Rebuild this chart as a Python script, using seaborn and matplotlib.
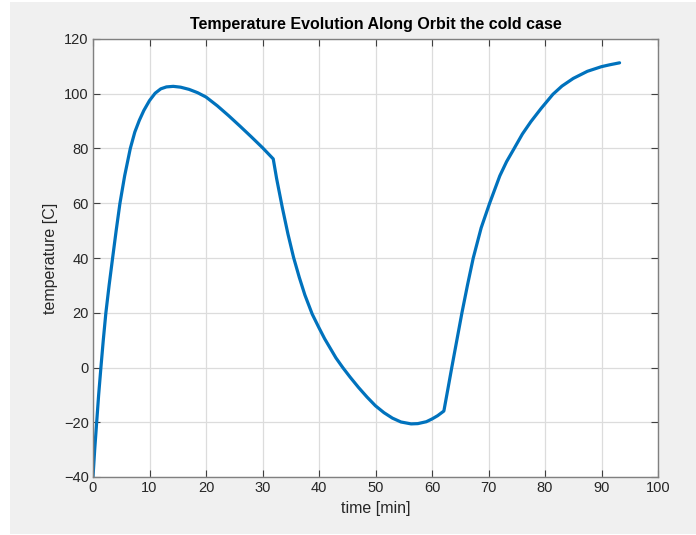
import numpy as np
import pandas as pd
import matplotlib
matplotlib.use("Agg")
import matplotlib.pyplot as plt
from matplotlib.patches import Rectangle
import seaborn as sns

# Temperature along the orbit, cold case: time [min] and temperature [C]
time_min = [0.0, 0.3, 0.65, 1.0, 1.4, 1.82, 2.28, 2.85, 3.47, 4.1, 4.77, 5.6,
            6.6, 7.4, 8.2, 9.0, 10.0, 11.0, 12.0, 13.0, 14.2, 15.5, 17.0,
            18.5, 20.0, 22.0, 24.0, 26.0, 28.0, 30.0, 31.9,
            32.5, 33.5, 34.5, 35.5, 36.5, 37.5, 38.8, 40.0, 41.0, 42.0, 43.0,
            44.2, 45.5, 47.0, 48.5, 50.0, 51.5, 53.0, 54.5, 56.3, 57.5, 59.0,
            60.0, 61.0, 62.1,
            62.8, 63.5, 64.4, 65.3, 66.3, 67.3, 68.7, 70.2, 72.0, 73.2, 74.4,
            76.0, 77.5, 79.3, 81.4, 83.0, 85.0, 87.5, 90.0, 91.5, 93.2]
temperature_c = [-40.0, -30.0, -20.0, -10.0, 0.0, 10.0, 20.0, 30.0, 40.0, 50.0, 60.0, 70.0,
                 80.0, 86.0, 90.3, 93.9, 97.5, 100.2, 101.8, 102.5, 102.7, 102.4, 101.6,
                 100.4, 98.8, 95.6, 92.0, 88.2, 84.3, 80.3, 76.2,
                 69.0, 58.5, 48.8, 40.2, 33.0, 26.5, 19.5, 14.5, 10.5, 7.0, 3.5,
                 0.0, -3.5, -7.3, -10.8, -14.0, -16.5, -18.5, -19.9, -20.6, -20.5, -19.8,
                 -18.8, -17.6, -15.9,
                 -8.0, 0.0, 10.0, 20.0, 30.3, 40.0, 51.0, 60.0, 70.0, 75.2, 79.5,
                 85.3, 89.8, 94.6, 99.8, 102.8, 105.6, 108.2, 109.9, 110.6, 111.3]

x_ticks = list(range(0, 101, 10))
y_ticks = list(range(-40, 121, 20))

df = pd.DataFrame({"time": time_min, "temp": temperature_c})

sns.set_theme(style="white")
plt.rcParams["font.family"] = ["Liberation Sans", "DejaVu Sans"]

fig = plt.figure(figsize=(6.96, 5.35), dpi=100, facecolor="white")
fig.patches.append(Rectangle((10 / 696, 1 / 535), 686 / 696, 532 / 535,
                             transform=fig.transFigure, facecolor="#F0F0F0",
                             edgecolor="none", zorder=-10))
ax = fig.add_axes([93 / 696, 1 - 477 / 535, (658 - 93) / 696, (477 - 39) / 535])
ax.set_facecolor("white")

sns.lineplot(data=df, x="time", y="temp", ax=ax, color="#0072BD",
             linewidth=2.3, sort=False, estimator=None)

ax.set_xlim(0, 100)
ax.set_ylim(-40, 120)
ax.set_xticks(x_ticks)
ax.set_yticks(y_ticks)
ax.grid(True, color="#DCDCDC", linewidth=0.9)
ax.set_axisbelow(True)

edge = "#262626"
for s in ax.spines.values():
    s.set_visible(True)
    s.set_color("#808080")
    s.set_linewidth(1.0)
ax.tick_params(axis="both", direction="in", length=5, width=0.8, color="#404040",
               labelsize=10.5, labelcolor=edge, top=True, right=True,
               bottom=True, left=True, pad=3)

ax.set_xlabel("time [min]", fontsize=11.5, color=edge, labelpad=4)
ax.set_ylabel("temperature [C]", fontsize=11.5, color=edge, labelpad=4)
ax.set_title("Temperature Evolution Along Orbit the cold case", fontsize=11.5,
             fontweight="bold", color="black", pad=7)

fig.savefig("out.png", dpi=100, facecolor=fig.get_facecolor())
